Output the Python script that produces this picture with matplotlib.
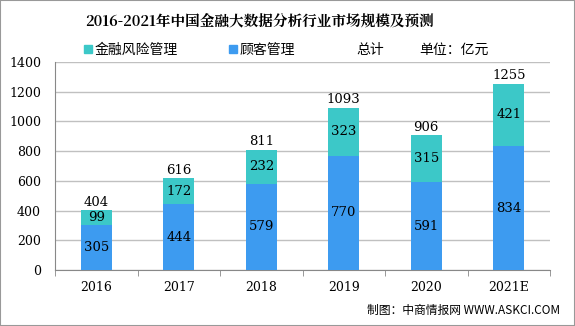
import matplotlib
matplotlib.use("Agg")
import matplotlib.pyplot as plt
from matplotlib.patches import Patch, Rectangle
from matplotlib.lines import Line2D
import numpy as np

plt.rcParams['font.family'] = ['Noto Sans CJK SC', 'DejaVu Sans']

categories = ["2016", "2017", "2018", "2019", "2020", "2021E"]
customer = [305, 444, 579, 770, 591, 834]
risk = [99, 172, 232, 323, 315, 421]
total = [404, 616, 811, 1093, 906, 1255]
yticks = [0, 200, 400, 600, 800, 1000, 1200, 1400]

c_risk = "#3cc8c8"
c_cust = "#3d9bf0"

fig = plt.figure(figsize=(5.75, 3.26), dpi=100)
fig.patches.append(Rectangle((0, 0), 1, 1, transform=fig.transFigure, fill=False,
                             edgecolor="#999999", linewidth=1.5))
ax = fig.add_axes([55/575, 56/326, 495/575, 208/326])

x = np.arange(len(categories))
w = 0.37
ax.bar(x, customer, w, color=c_cust, zorder=3)
ax.bar(x, risk, w, bottom=customer, color=c_risk, zorder=3)

num_font = dict(family=['DejaVu Serif'], fontsize=9.5)
for i in range(len(categories)):
    ax.text(x[i], customer[i] / 2, str(customer[i]), ha='center', va='center', zorder=4, **num_font)
    ax.text(x[i], customer[i] + risk[i] / 2, str(risk[i]), ha='center', va='center', zorder=4, **num_font)
    ax.text(x[i], total[i] + 8, str(total[i]), ha='center', va='bottom', zorder=4, **num_font)

ax.set_xlim(-0.5, len(categories) - 0.5)
ax.set_ylim(0, 1400)
ax.set_yticks(yticks)
ax.set_yticklabels([str(v) for v in yticks], family=['DejaVu Serif'], fontsize=9)
ax.set_xticks(x)
ax.set_xticklabels(categories, family=['DejaVu Serif'], fontsize=9)
ax.set_xticks(np.arange(-0.5, len(categories)), minor=True)
ax.tick_params(axis='x', which='major', length=0, pad=8)
ax.tick_params(axis='x', which='minor', length=4, color="#888888")
ax.tick_params(axis='y', length=0, pad=10)
ax.yaxis.grid(True, color="#c0c0c0", linewidth=1, zorder=0)
for s in ['top', 'right']:
    ax.spines[s].set_visible(False)
ax.spines['left'].set_color("#888888")
ax.spines['bottom'].set_color("#888888")

fig.text(260/575, 1 - 22/326, "2016-2021年中国金融大数据分析行业市场规模及预测", ha='center', va='center',
         fontsize=10.5, fontweight='bold', family=['Noto Serif CJK SC', 'Noto Sans CJK SC', 'DejaVu Serif'])

handles = [Patch(color=c_risk), Patch(color=c_cust), Line2D([], [], color='none')]
labels = ["金融风险管理", "顾客管理", "总计"]
fig.legend(handles, labels, loc='center left', bbox_to_anchor=(84/575, 1 - 50/326), ncol=3,
           frameon=False, fontsize=10, handlelength=0.55, handleheight=0.55, handletextpad=0.2,
           columnspacing=3.7, borderaxespad=0, borderpad=0)
fig.text(489/575, 1 - 50/326, "单位：亿元", ha='right', va='center', fontsize=10)
fig.text(560/575, 1 - 310/326, "制图：中商情报网 WWW.ASKCI.COM", ha='right', va='center', fontsize=8.5)

fig.savefig("out.png", dpi=100)
